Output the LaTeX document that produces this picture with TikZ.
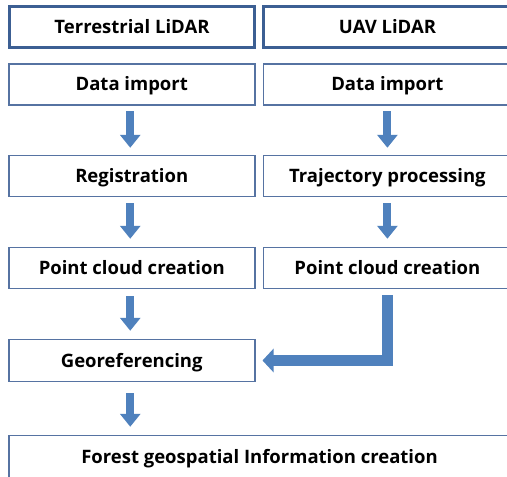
\documentclass[tikz,border=0pt]{standalone}
\usepackage{fontspec}
\setmainfont{Open Sans}[BoldFont={Open Sans Bold}]
\usetikzlibrary{arrows.meta}
\definecolor{hdr}{HTML}{3C5F93}
\definecolor{bx}{HTML}{5673A2}
\definecolor{arr}{HTML}{4F81BD}
\begin{document}
\begin{tikzpicture}[x=1pt,y=-1pt,
  txt/.style={font=\fontsize{18.5}{22}\selectfont\bfseries, text=black, inner sep=0pt, text height=13.2pt, text depth=0pt},
  hdrbox/.style={txt, draw=hdr, line width=3pt, minimum width=245pt, minimum height=41pt},
  stepbox/.style={txt, draw=bx, line width=1.5pt, minimum width=246pt, minimum height=41pt},
  bigarr/.style={draw=arr, line width=8pt, -{Triangle[width=20pt,length=13pt]}},
  lharr/.style={draw=arr, line width=10.5pt, line join=miter, -{Triangle[width=23pt,length=11pt]}}
]
\useasboundingbox (0,0) rectangle (507,477);
\clip (0,0) rectangle (507,477);
\fill[white] (0,0) rectangle (507,477);

\node[hdrbox] (h1) at (132,27) {Terrestrial LiDAR};
\node[hdrbox, minimum width=248pt] (h2) at (387.5,27) {UAV LiDAR};

\node[stepbox] (di1) at (131.75,84.25) {Data import};
\node[stepbox, minimum width=247.5pt] (di2) at (387.4,84.25) {Data import};
\node[stepbox] (rg1) at (131.75,176) {Registration};
\node[stepbox, minimum width=247.5pt] (tp2) at (387.4,176) {Trajectory processing};
\node[stepbox] (pc1) at (131.75,268) {Point cloud creation};
\node[stepbox, minimum width=247.5pt] (pc2) at (387.4,268) {Point cloud creation};
\node[stepbox, minimum height=42pt] (geo) at (131.75,360.5) {Georeferencing};
\node[stepbox, minimum width=501.5pt, minimum height=43pt] (fin) at (259.5,457) {Forest geospatial Information creation};

\draw[bigarr, shorten <=5.5pt, shorten >=7pt] ([xshift=-1.5pt]di1.south) -- ([xshift=-1.5pt]rg1.north);
\draw[bigarr, shorten <=6pt, shorten >=8pt] ([xshift=-1.5pt]rg1.south) -- ([xshift=-1.5pt]pc1.north);
\draw[bigarr, shorten <=7pt, shorten >=8pt] ([xshift=-1.5pt]pc1.south) -- ([xshift=-1.5pt]geo.north);
\draw[bigarr, shorten <=11pt, shorten >=8pt] ([xshift=-1.5pt]geo.south) -- ([xshift=-1.5pt]geo.south |- fin.north);

\draw[bigarr, shorten <=5.5pt, shorten >=7pt] (di2.south) -- (tp2.north);
\draw[bigarr, shorten <=6pt, shorten >=8pt] (tp2.south) -- (pc2.north);
\draw[lharr, shorten <=6pt, shorten >=7pt] (pc2.south) |- (geo.east);
\end{tikzpicture}
\end{document}
